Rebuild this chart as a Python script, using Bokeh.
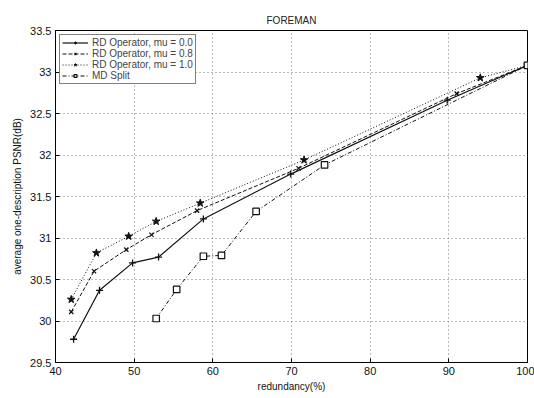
from bokeh.plotting import figure
from bokeh.models import Range1d, FixedTicker, Legend, LegendItem
from bokeh.embed import file_html
from bokeh.resources import INLINE

x_mu00 = [42.3, 45.6, 49.8, 53.1, 58.8, 69.9, 89.8, 100]
y_mu00 = [29.78, 30.37, 30.70, 30.77, 31.23, 31.77, 32.66, 33.08]
x_mu08 = [42.0, 44.9, 49.0, 52.2, 58.0, 70.9, 91.0, 100]
y_mu08 = [30.11, 30.60, 30.86, 31.04, 31.33, 31.84, 32.74, 33.08]
x_mu10 = [42.0, 45.2, 49.3, 52.8, 58.4, 71.6, 94.0, 100]
y_mu10 = [30.26, 30.82, 31.02, 31.20, 31.42, 31.94, 32.93, 33.08]
x_md = [52.8, 55.4, 58.8, 61.1, 65.5, 74.2, 100]
y_md = [30.03, 30.38, 30.78, 30.79, 31.32, 31.88, 33.08]

x_ticks = [40, 50, 60, 70, 80, 90, 100]
y_ticks = [29.5, 30, 30.5, 31, 31.5, 32, 32.5, 33, 33.5]
labels = ["RD Operator, mu = 0.0", "RD Operator, mu = 0.8",
          "RD Operator, mu = 1.0", "MD Split"]

FONT = "Liberation Sans"

p = figure(width=534, height=398, output_backend="svg", toolbar_location=None,
           x_range=Range1d(40, 100), y_range=Range1d(29.5, 33.5),
           min_border_left=55, min_border_right=7, min_border_top=30,
           min_border_bottom=36, title="FOREMAN")
p.title.align = "center"
p.title.text_font = FONT
p.title.text_font_size = "10px"
p.title.text_font_style = "normal"
p.title.text_color = "#222222"

p.outline_line_color = "black"
p.outline_line_width = 1
p.background_fill_color = "white"
p.border_fill_color = "white"

for ax in (p.xaxis[0], p.yaxis[0]):
    ax.major_tick_in = 4
    ax.major_tick_out = 0
    ax.minor_tick_in = 0
    ax.minor_tick_out = 0
    ax.axis_line_color = "black"
    ax.major_label_text_font = FONT
    ax.major_label_text_font_size = "11px"
    ax.major_label_text_color = "#111111"
    ax.axis_label_text_font = FONT
    ax.axis_label_text_font_size = "10px"
    ax.axis_label_text_font_style = "normal"
    ax.axis_label_text_color = "#111111"

p.xaxis.ticker = FixedTicker(ticks=x_ticks)
p.yaxis.ticker = FixedTicker(ticks=y_ticks)
p.xaxis.major_label_standoff = 4
p.yaxis.major_label_standoff = 4
p.xaxis.axis_label = "redundancy(%)"
p.yaxis.axis_label = "average one-description PSNR(dB)"
p.xaxis.axis_label_standoff = 3
p.yaxis.axis_label_standoff = 4

p.grid.grid_line_color = "#777777"
p.grid.grid_line_dash = "1 3"
p.grid.grid_line_width = 1

c = "#111111"
l0 = p.line(x_mu00, y_mu00, line_color=c, line_width=1.2)
m0 = p.scatter(x_mu00, y_mu00, marker="cross", size=7, line_color=c, line_width=1.3)
l1 = p.line(x_mu08, y_mu08, line_color=c, line_width=1, line_dash="4 2")
m1 = p.scatter(x_mu08, y_mu08, marker="x", size=6, line_color=c, line_width=1.2)
l2 = p.line(x_mu10, y_mu10, line_color=c, line_width=1, line_dash="1 2")
m2 = p.scatter(x_mu10, y_mu10, marker="star", size=8, line_color=c,
               fill_color=c, line_width=1)
l3 = p.line(x_md, y_md, line_color=c, line_width=1, line_dash="4 2 1 2")
m3 = p.scatter(x_md, y_md, marker="square", size=6.5, line_color=c,
               fill_color="white", line_width=1.2)

legend = Legend(items=[
    LegendItem(label=labels[0], renderers=[l0, m0]),
    LegendItem(label=labels[1], renderers=[l1, m1]),
    LegendItem(label=labels[2], renderers=[l2, m2]),
    LegendItem(label=labels[3], renderers=[l3, m3]),
], location="top_left")
legend.label_text_font = FONT
legend.label_text_font_size = "10px"
legend.label_height = 7
legend.glyph_height = 7
legend.glyph_width = 26
legend.spacing = 0
legend.padding = 2
legend.margin = 4
legend.label_standoff = 4
legend.border_line_color = "black"
legend.border_line_width = 1
legend.background_fill_alpha = 1
p.add_layout(legend)

open("out.html", "w").write(file_html(p, INLINE))
